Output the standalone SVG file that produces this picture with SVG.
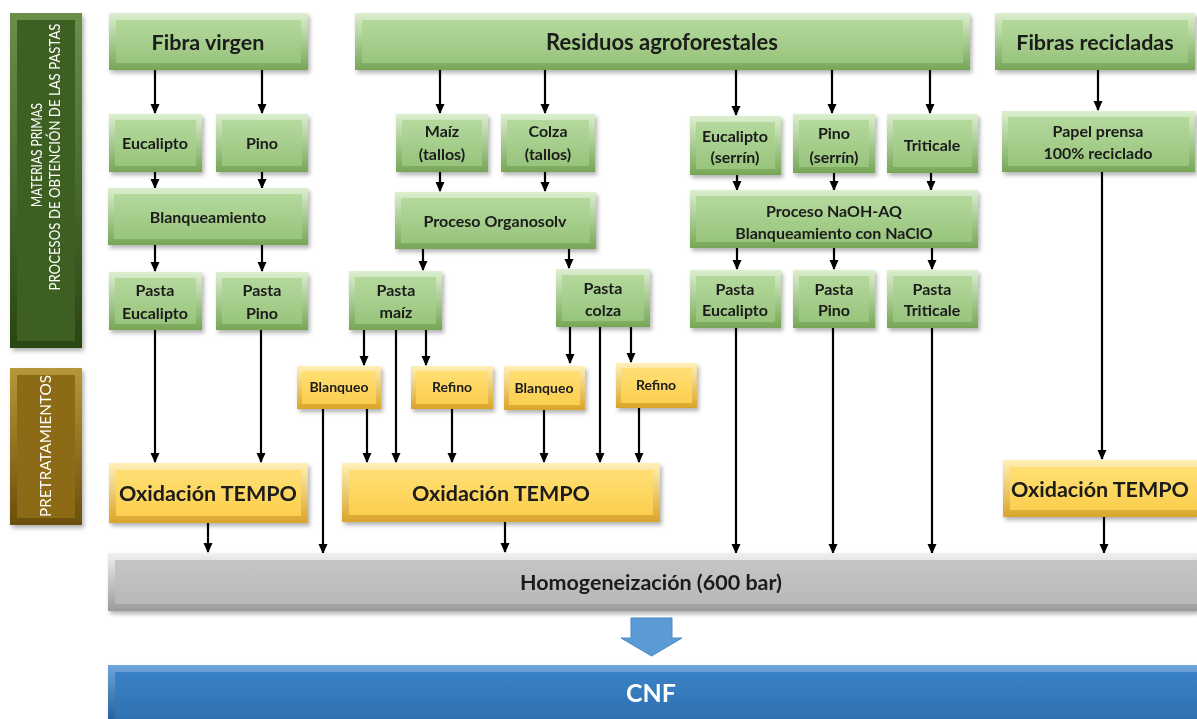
<svg xmlns="http://www.w3.org/2000/svg" width="1197" height="719" viewBox="0 0 1197 719">
<defs>
<style>
text{font-family:Lato,"Liberation Sans",sans-serif;font-weight:bold;fill:#1a1a1a;text-anchor:middle}
.t20{font-size:21.5px}.t15{font-size:16px}.t13{font-size:14px}
.side{font-family:Lato,"Liberation Sans",sans-serif;font-weight:normal;fill:#fff;font-size:14.5px}
.go{fill:url(#gG)}.gi{fill:url(#gGi)}
.yo{fill:url(#gY)}.yi{fill:url(#gYi)}
.con line{stroke:#000;stroke-width:2.2;marker-end:url(#ah)}
</style>
<linearGradient id="gG" x1="0" y1="0" x2="0" y2="1"><stop offset="0" stop-color="#dcefcf"/><stop offset="1" stop-color="#76a656"/></linearGradient>
<linearGradient id="gGi" x1="0" y1="0" x2="0" y2="1"><stop offset="0" stop-color="#b4d99d"/><stop offset="1" stop-color="#98c47c"/></linearGradient>
<linearGradient id="gY" x1="0" y1="0" x2="0" y2="1"><stop offset="0" stop-color="#fff0b8"/><stop offset="1" stop-color="#d9a52a"/></linearGradient>
<linearGradient id="gYi" x1="0" y1="0" x2="0" y2="1"><stop offset="0" stop-color="#ffdf74"/><stop offset="1" stop-color="#fbcf4f"/></linearGradient>
<linearGradient id="gS" x1="0" y1="0" x2="0" y2="1"><stop offset="0" stop-color="#f0f0f0"/><stop offset="1" stop-color="#9a9a9a"/></linearGradient>
<linearGradient id="gSi" x1="0" y1="0" x2="0" y2="1"><stop offset="0" stop-color="#c6c6c6"/><stop offset="1" stop-color="#b8b8b8"/></linearGradient>
<linearGradient id="gB" x1="0" y1="0" x2="0" y2="1"><stop offset="0" stop-color="#6ea6dc"/><stop offset="1" stop-color="#1f5a95"/></linearGradient>
<linearGradient id="gBi" x1="0" y1="0" x2="0" y2="1"><stop offset="0" stop-color="#3a82c6"/><stop offset="1" stop-color="#2d6fae"/></linearGradient>
<linearGradient id="gD" x1="0" y1="0" x2="0" y2="1"><stop offset="0" stop-color="#6b8f4a"/><stop offset="1" stop-color="#2a4513"/></linearGradient>
<linearGradient id="gBr" x1="0" y1="0" x2="0" y2="1"><stop offset="0" stop-color="#b8963a"/><stop offset="1" stop-color="#6a4f0a"/></linearGradient>
<filter id="sh" x="-10%" y="-10%" width="120%" height="130%"><feDropShadow dx="2" dy="3" stdDeviation="2" flood-color="#000" flood-opacity="0.3"/></filter>
<marker id="ah" markerWidth="10" markerHeight="10" refX="9" refY="5" orient="auto" markerUnits="userSpaceOnUse"><path d="M0,0.5 L10,5 L0,9.5 Z" fill="#000"/></marker>
</defs>
<rect width="1197" height="719" fill="#fff"/>

<g id="side-materias" filter="url(#sh)">
<rect x="10" y="13" width="72" height="335" fill="url(#gD)"/>
<rect x="17" y="20" width="58" height="321" fill="#3d6120"/>
<text class="side" transform="translate(42,155) rotate(-90)" textLength="104" lengthAdjust="spacingAndGlyphs">MATERIAS PRIMAS</text>
<text class="side" transform="translate(60,157) rotate(-90)" textLength="267" lengthAdjust="spacingAndGlyphs">PROCESOS DE OBTENCIÓN DE LAS PASTAS</text>
</g>
<g id="side-pretrat" filter="url(#sh)">
<rect x="10" y="368" width="72" height="157" fill="url(#gBr)"/>
<rect x="17" y="375" width="58" height="143" fill="#8c6b14"/>
<text class="side" transform="translate(51,446) rotate(-90)" textLength="142" lengthAdjust="spacingAndGlyphs">PRETRATAMIENTOS</text>
</g>

<g class="con" id="connectors">
<line x1="155" y1="70" x2="155" y2="113"/>
<line x1="262" y1="70" x2="262" y2="113"/>
<line x1="155" y1="172" x2="155" y2="188"/>
<line x1="262" y1="172" x2="262" y2="188"/>
<line x1="155" y1="245" x2="155" y2="271"/>
<line x1="262" y1="245" x2="262" y2="271"/>
<line x1="155" y1="330" x2="155" y2="462"/>
<line x1="261" y1="330" x2="261" y2="462"/>
<line x1="440" y1="70" x2="440" y2="113"/>
<line x1="545" y1="70" x2="545" y2="113"/>
<line x1="736" y1="70" x2="736" y2="115"/>
<line x1="832" y1="70" x2="832" y2="113"/>
<line x1="930" y1="70" x2="930" y2="113"/>
<line x1="1098" y1="70" x2="1098" y2="110"/>
<line x1="440" y1="172" x2="440" y2="191"/>
<line x1="545" y1="172" x2="545" y2="191"/>
<line x1="423" y1="249" x2="423" y2="270"/>
<line x1="569" y1="249" x2="569" y2="268"/>
<line x1="737" y1="175" x2="737" y2="190"/>
<line x1="834" y1="173" x2="834" y2="190"/>
<line x1="931" y1="173" x2="931" y2="190"/>
<line x1="737" y1="248" x2="737" y2="269"/>
<line x1="834" y1="248" x2="834" y2="269"/>
<line x1="932" y1="248" x2="932" y2="269"/>
<line x1="364" y1="330" x2="364" y2="365"/>
<line x1="396" y1="330" x2="396" y2="462"/>
<line x1="426" y1="330" x2="426" y2="365"/>
<line x1="367" y1="409" x2="367" y2="462"/>
<line x1="323" y1="409" x2="323" y2="553"/>
<line x1="452" y1="409" x2="452" y2="462"/>
<line x1="570" y1="327" x2="570" y2="363"/>
<line x1="600" y1="327" x2="600" y2="462"/>
<line x1="631" y1="327" x2="631" y2="362"/>
<line x1="544" y1="410" x2="544" y2="462"/>
<line x1="639" y1="408" x2="639" y2="462"/>
<line x1="1102" y1="172" x2="1102" y2="459"/>
<line x1="208" y1="523" x2="208" y2="552"/>
<line x1="505" y1="522" x2="505" y2="552"/>
<line x1="736" y1="328" x2="736" y2="553"/>
<line x1="833" y1="328" x2="833" y2="553"/>
<line x1="932" y1="328" x2="932" y2="553"/>
<line x1="1104" y1="517" x2="1104" y2="553"/>
</g>

<g id="fibra-virgen" filter="url(#sh)"><rect class="go" x="109" y="13" width="199" height="57"/><rect class="gi" x="116" y="20" width="185" height="43"/><text class="t20" x="208" y="50">Fibra virgen</text></g>
<g id="residuos" filter="url(#sh)"><rect class="go" x="355" y="13" width="615" height="57"/><rect class="gi" x="362" y="20" width="601" height="43"/><text class="t20" style="font-size:22px" x="662" y="50">Residuos agroforestales</text></g>
<g id="fibras-recicladas" filter="url(#sh)"><rect class="go" x="995" y="13" width="200" height="57"/><rect class="gi" x="1002" y="20" width="186" height="43"/><text class="t20" x="1095" y="50">Fibras recicladas</text></g>

<g id="eucalipto" filter="url(#sh)"><rect class="go" x="109" y="114" width="93" height="58"/><rect class="gi" x="115" y="120" width="81" height="46"/><text class="t15" x="155" y="149">Eucalipto</text></g>
<g id="pino" filter="url(#sh)"><rect class="go" x="216" y="114" width="92" height="58"/><rect class="gi" x="222" y="120" width="80" height="46"/><text class="t15" x="262" y="149">Pino</text></g>
<g id="maiz" filter="url(#sh)"><rect class="go" x="396" y="114" width="92" height="58"/><rect class="gi" x="402" y="120" width="80" height="46"/><text class="t15" x="442" y="137">Maíz</text><text class="t15" x="442" y="160">(tallos)</text></g>
<g id="colza" filter="url(#sh)"><rect class="go" x="501" y="114" width="94" height="58"/><rect class="gi" x="507" y="120" width="82" height="46"/><text class="t15" x="548" y="137">Colza</text><text class="t15" x="548" y="160">(tallos)</text></g>
<g id="eucalipto-serrin" filter="url(#sh)"><rect class="go" x="690" y="116" width="91" height="59"/><rect class="gi" x="696" y="122" width="79" height="47"/><text class="t15" x="735" y="142">Eucalipto</text><text class="t15" x="735" y="163">(serrín)</text></g>
<g id="pino-serrin" filter="url(#sh)"><rect class="go" x="793" y="114" width="82" height="59"/><rect class="gi" x="799" y="120" width="70" height="47"/><text class="t15" x="834" y="139">Pino</text><text class="t15" x="834" y="163">(serrín)</text></g>
<g id="triticale" filter="url(#sh)"><rect class="go" x="887" y="114" width="91" height="59"/><rect class="gi" x="893" y="120" width="79" height="47"/><text class="t15" x="932" y="151">Triticale</text></g>
<g id="papel" filter="url(#sh)"><rect class="go" x="1002" y="111" width="193" height="61"/><rect class="gi" x="1008" y="117" width="181" height="49"/><text class="t15" x="1098" y="137">Papel prensa</text><text class="t15" x="1098" y="159">100% reciclado</text></g>

<g id="blanqueamiento" filter="url(#sh)"><rect class="go" x="108" y="188" width="200" height="57"/><rect class="gi" x="114" y="194" width="188" height="45"/><text class="t15" x="208" y="223">Blanqueamiento</text></g>
<g id="organosolv" filter="url(#sh)"><rect class="go" x="395" y="192" width="201" height="57"/><rect class="gi" x="401" y="198" width="189" height="45"/><text class="t15" x="495" y="227">Proceso Organosolv</text></g>
<g id="naoh" filter="url(#sh)"><rect class="go" x="690" y="190" width="288" height="58"/><rect class="gi" x="696" y="196" width="276" height="46"/><text class="t15" x="834" y="217">Proceso NaOH-AQ</text><text class="t15" x="834" y="239">Blanqueamiento con NaClO</text></g>

<g id="pasta-eucalipto" filter="url(#sh)"><rect class="go" x="109" y="272" width="93" height="58"/><rect class="gi" x="115" y="278" width="81" height="46"/><text class="t15" x="155" y="296">Pasta</text><text class="t15" x="155" y="319">Eucalipto</text></g>
<g id="pasta-pino" filter="url(#sh)"><rect class="go" x="216" y="272" width="92" height="58"/><rect class="gi" x="222" y="278" width="80" height="46"/><text class="t15" x="262" y="296">Pasta</text><text class="t15" x="262" y="319">Pino</text></g>
<g id="pasta-maiz" filter="url(#sh)"><rect class="go" x="349" y="271" width="93" height="59"/><rect class="gi" x="355" y="277" width="81" height="47"/><text class="t15" x="396" y="296">Pasta</text><text class="t15" x="396" y="318">maíz</text></g>
<g id="pasta-colza" filter="url(#sh)"><rect class="go" x="556" y="269" width="94" height="58"/><rect class="gi" x="562" y="275" width="82" height="46"/><text class="t15" x="603" y="294">Pasta</text><text class="t15" x="603" y="316">colza</text></g>
<g id="pasta-eucalipto-2" filter="url(#sh)"><rect class="go" x="690" y="270" width="91" height="58"/><rect class="gi" x="696" y="276" width="79" height="46"/><text class="t15" x="735" y="295">Pasta</text><text class="t15" x="735" y="316">Eucalipto</text></g>
<g id="pasta-pino-2" filter="url(#sh)"><rect class="go" x="793" y="270" width="82" height="58"/><rect class="gi" x="799" y="276" width="70" height="46"/><text class="t15" x="834" y="295">Pasta</text><text class="t15" x="834" y="316">Pino</text></g>
<g id="pasta-triticale" filter="url(#sh)"><rect class="go" x="887" y="270" width="91" height="58"/><rect class="gi" x="893" y="276" width="79" height="46"/><text class="t15" x="932" y="295">Pasta</text><text class="t15" x="932" y="316">Triticale</text></g>

<g id="blanqueo-1" filter="url(#sh)"><rect class="yo" x="297" y="366" width="84" height="43"/><rect class="yi" x="302" y="371" width="74" height="33"/><text class="t13" x="339" y="392">Blanqueo</text></g>
<g id="refino-1" filter="url(#sh)"><rect class="yo" x="411" y="366" width="82" height="43"/><rect class="yi" x="416" y="371" width="72" height="33"/><text class="t13" x="452" y="392">Refino</text></g>
<g id="blanqueo-2" filter="url(#sh)"><rect class="yo" x="504" y="366" width="81" height="44"/><rect class="yi" x="509" y="371" width="71" height="34"/><text class="t13" x="544" y="393">Blanqueo</text></g>
<g id="refino-2" filter="url(#sh)"><rect class="yo" x="616" y="363" width="81" height="45"/><rect class="yi" x="621" y="368" width="71" height="35"/><text class="t13" x="656" y="390">Refino</text></g>

<g id="oxidacion-1" filter="url(#sh)"><rect class="yo" x="109" y="463" width="199" height="60"/><rect class="yi" x="116" y="470" width="185" height="46"/><text class="t20" x="208" y="501">Oxidación TEMPO</text></g>
<g id="oxidacion-2" filter="url(#sh)"><rect class="yo" x="342" y="463" width="318" height="59"/><rect class="yi" x="349" y="470" width="304" height="45"/><text class="t20" x="501" y="501">Oxidación TEMPO</text></g>
<g id="oxidacion-3" filter="url(#sh)"><rect class="yo" x="1003" y="460" width="194" height="57"/><rect class="yi" x="1010" y="467" width="187" height="43"/><text class="t20" x="1100" y="497">Oxidación TEMPO</text></g>

<g id="homogeneizacion" filter="url(#sh)"><rect x="108" y="553" width="1089" height="58" fill="url(#gS)"/><rect x="115" y="560" width="1082" height="44" fill="url(#gSi)"/><text style="font-size:21.5px" x="651" y="590">Homogeneización (600 bar)</text></g>

<g id="flecha"><path d="M631,618 H672 V638 H682 L651.5,656 L621,638 H631 Z" fill="#5b9bd5" stroke="#4a8ac4" stroke-width="1"/></g>

<g id="cnf" filter="url(#sh)"><rect x="108" y="665" width="1089" height="60" fill="url(#gB)"/><rect x="115" y="672" width="1082" height="53" fill="url(#gBi)"/><text style="font-size:25px;fill:#fff" x="651" y="702">CNF</text></g>
</svg>
